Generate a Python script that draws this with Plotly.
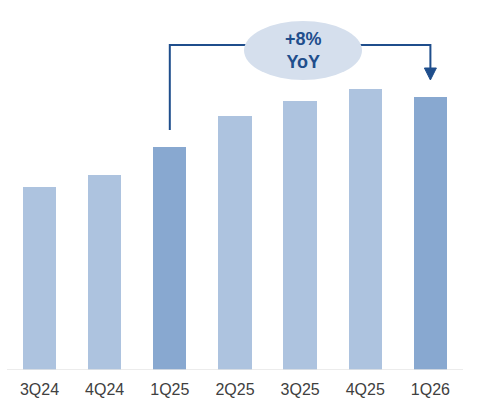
import plotly.graph_objects as go

quarters = ["3Q24", "4Q24", "1Q25", "2Q25", "3Q25", "4Q25", "1Q26"]
values = [18.3, 19.5, 22.3, 25.4, 26.9, 28.1, 27.3]
highlight = [False, False, True, False, False, False, True]
yoy_label = "+8%<br>YoY"

LIGHT = "#adc3df"
DARK = "#88a8d0"
NAVY = "#1f4e8c"

W, H = 486, 398
BASE = 370  # pixel of baseline
STEP = 65.15
X0 = 39.5
xmin = -X0 / STEP
xmax = xmin + W / STEP
YMAX = BASE / 10.0

def px2x(p):
    return xmin + p / STEP

def py2y(p):
    return (BASE - p) / 10.0

colors = [DARK if h else LIGHT for h in highlight]
xs = list(range(len(quarters)))

fig = go.Figure(go.Bar(x=xs, y=values, marker=dict(color=colors, line=dict(width=0)),
                       width=0.51, hoverinfo="skip"))

i0 = quarters.index("1Q25")
i1 = quarters.index("1Q26")
line_col = NAVY
shapes = [
    dict(type="line", xref="x", yref="y", x0=px2x(7), x1=px2x(463), y0=0, y1=0,
         line=dict(color="#e6e6e6", width=1.5)),
    dict(type="path", xref="x", yref="y",
         path=f"M {i0},{py2y(130)} L {i0},{py2y(45)} L {px2x(250)},{py2y(45)}",
         line=dict(color=line_col, width=2)),
    dict(type="path", xref="x", yref="y",
         path=f"M {px2x(356)},{py2y(45)} L {i1},{py2y(45)} L {i1},{py2y(69)}",
         line=dict(color=line_col, width=2)),
    dict(type="path", xref="x", yref="y",
         path=f"M {i1 - 6/STEP},{py2y(68)} L {i1 + 6/STEP},{py2y(68)} L {i1},{py2y(80)} Z",
         fillcolor=line_col, line=dict(color=line_col, width=1)),
    dict(type="circle", xref="x", yref="y", x0=px2x(244), x1=px2x(362),
         y0=py2y(80), y1=py2y(21), fillcolor="#d5dfed", line=dict(width=0)),
]

fig.update_layout(
    width=W, height=H,
    margin=dict(l=0, r=0, t=0, b=H - BASE),
    paper_bgcolor="white", plot_bgcolor="white",
    showlegend=False,
    bargap=0,
    shapes=shapes,
    annotations=[dict(x=px2x(303), y=py2y(50), xref="x", yref="y", text=yoy_label,
                      showarrow=False, font=dict(family="Liberation Sans, Arial", size=18, color=NAVY),
                      align="center")],
    xaxis=dict(range=[xmin, xmax], tickmode="array", tickvals=xs, ticktext=quarters,
               showgrid=False, zeroline=False, showline=False, ticks="",
               ticklabelstandoff=8, automargin=False,
               tickfont=dict(family="Liberation Sans, Arial", size=16, color="#404040"),
               fixedrange=True),
    yaxis=dict(range=[0, YMAX], visible=False, fixedrange=True, automargin=False),
)
fig.update_annotations(font_weight="bold")

fig.write_html("out.html")
